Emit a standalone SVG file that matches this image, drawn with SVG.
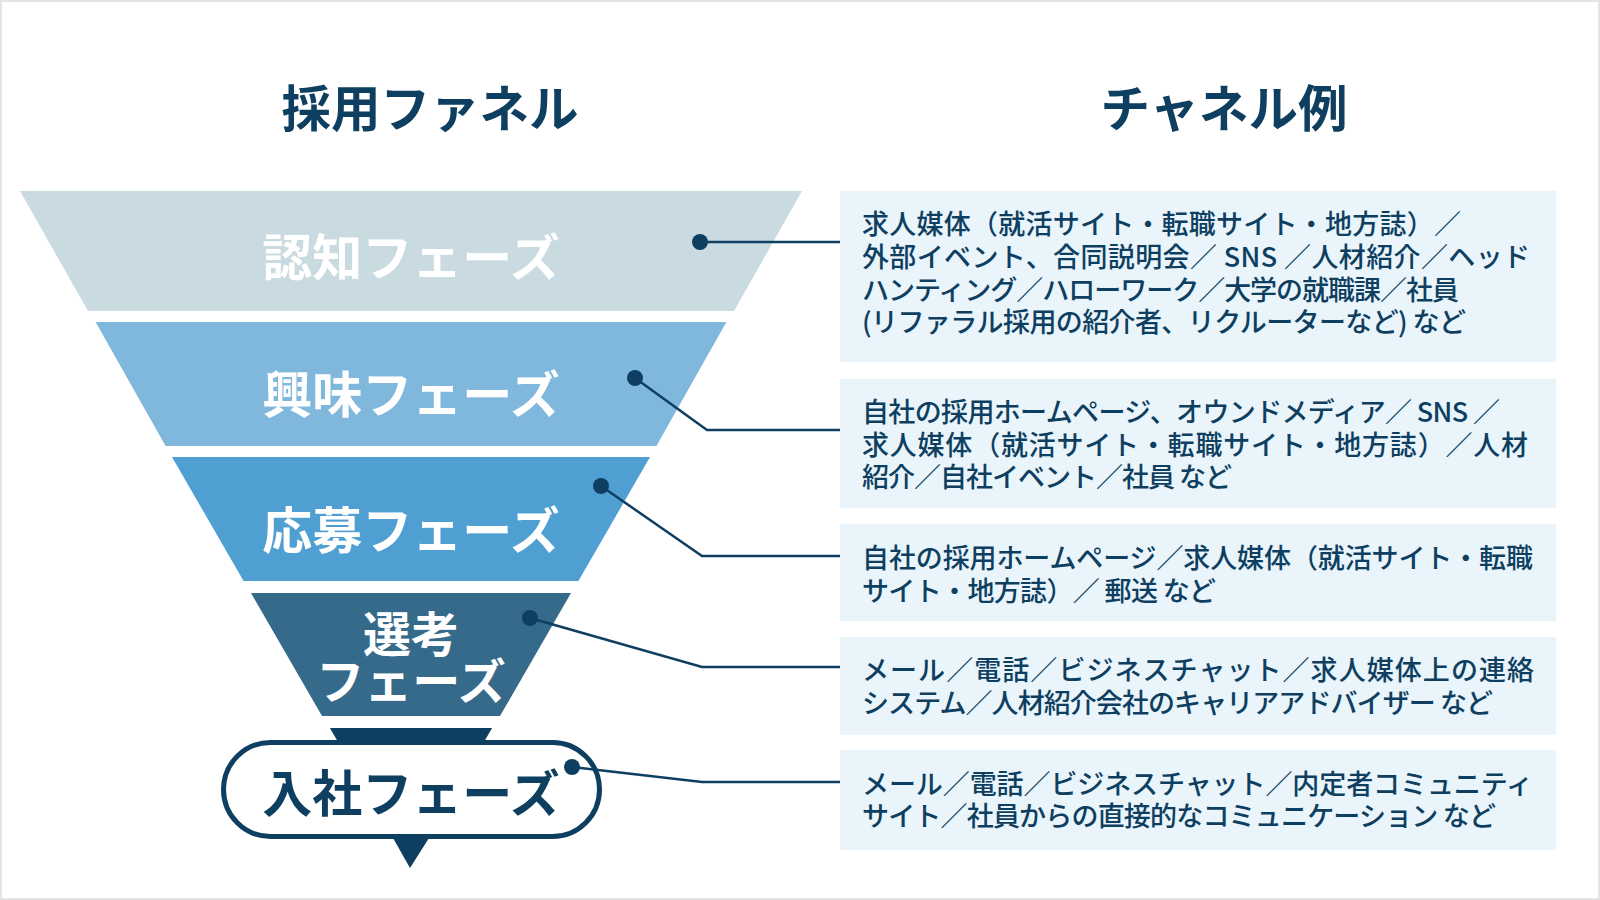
<svg xmlns="http://www.w3.org/2000/svg" width="1600" height="900" viewBox="0 0 1600 900">
  <style>
    .title { font-family: "Noto Sans CJK JP", "Noto Sans", sans-serif; font-weight: 700; font-size: 49.5px; fill: #0e3f60; text-anchor: middle; }
    .band { font-family: "Noto Sans CJK JP", "Noto Sans", sans-serif; font-weight: 700; font-size: 50px; fill: #ffffff; text-anchor: middle; }
    .bandDark { font-family: "Noto Sans CJK JP", "Noto Sans", sans-serif; font-weight: 700; font-size: 50px; fill: #0e3f60; text-anchor: middle; }
    .box { fill: #e9f4fb; }
    .txt { font-family: "Noto Sans CJK JP", "Noto Sans", sans-serif; font-weight: 500; font-size: 27px; fill: #0e3f60; }
    .conn { fill: none; stroke: #0e3f60; stroke-width: 2.5; }
    .dot { fill: #0e3f60; }
  </style>
  <rect x="0" y="0" width="1600" height="900" fill="#ffffff"/>
  <rect x="1" y="1" width="1598" height="898" fill="none" stroke="#e4e4e4" stroke-width="2"/>

  <g id="titles">
    <text class="title" x="430" y="127">採用ファネル</text>
    <text class="title" x="1224" y="127">チャネル例</text>
  </g>

  <g id="stage-awareness">
    <polygon points="20,191 802,191 734,311 88,311" fill="#c9dbe1"/>
    <text class="band" x="411" y="276">認知フェーズ</text>
  </g>
  <g id="stage-interest">
    <polygon points="95.6,322 726.4,322 656.4,446 165.6,446" fill="#80b8dd"/>
    <text class="band" x="411" y="413">興味フェーズ</text>
  </g>
  <g id="stage-apply">
    <polygon points="172,457 650,457 578.4,581 243.6,581" fill="#4f9fd3"/>
    <text class="band" x="411" y="549">応募フェーズ</text>
  </g>
  <g id="stage-selection">
    <polygon points="251,593 571,593 500,716 322,716" fill="#366a8a"/>
    <text class="band" x="411" y="652" style="font-size:48px">選考</text>
    <text class="band" x="411" y="699" style="font-size:48px">フェーズ</text>
  </g>
  <g id="stage-join">
    <polygon points="329.9,728 492.1,728 470,766 352,766" fill="#0e3f60"/>
    <rect x="223.5" y="742.5" width="376" height="94" rx="47" ry="47" fill="#ffffff" stroke="#0e3f60" stroke-width="5"/>
    <polygon points="393,838 429,838 410,868" fill="#0e3f60"/>
    <text class="bandDark" x="411" y="812">入社フェーズ</text>
  </g>

  <g id="connectors">
    <polyline class="conn" points="700,242 840,242"/>
    <polyline class="conn" points="635,378 707,430 840,430"/>
    <polyline class="conn" points="601,486 702,556 840,556"/>
    <polyline class="conn" points="530,618 702,667 840,667"/>
    <polyline class="conn" points="572,767 702,782 840,782"/>
    <circle class="dot" cx="700" cy="242" r="8"/>
    <circle class="dot" cx="635" cy="378" r="8"/>
    <circle class="dot" cx="601" cy="486" r="8"/>
    <circle class="dot" cx="530" cy="618" r="8"/>
    <circle class="dot" cx="572" cy="767" r="8"/>
  </g>

  <g id="channel-awareness">
    <rect class="box" x="840" y="191" width="716" height="171"/>
    <text class="txt" x="862" y="234" textLength="599" lengthAdjust="spacing">求人媒体（就活サイト・転職サイト・地方誌）／</text>
    <text class="txt" x="862" y="267" textLength="668" lengthAdjust="spacing">外部イベント、合同説明会／ SNS ／人材紹介／ヘッド</text>
    <text class="txt" x="862" y="300" textLength="597" lengthAdjust="spacing">ハンティング／ハローワーク／大学の就職課／社員</text>
    <text class="txt" x="862" y="332" textLength="604" lengthAdjust="spacing">(リファラル採用の紹介者、リクルーターなど) など</text>
  </g>
  <g id="channel-interest">
    <rect class="box" x="840" y="379" width="716" height="129"/>
    <text class="txt" x="862" y="422" textLength="638" lengthAdjust="spacing">自社の採用ホームページ、オウンドメディア／ SNS ／</text>
    <text class="txt" x="862" y="455" textLength="666" lengthAdjust="spacing">求人媒体（就活サイト・転職サイト・地方誌）／人材</text>
    <text class="txt" x="862" y="487" textLength="370" lengthAdjust="spacing">紹介／自社イベント／社員 など</text>
  </g>
  <g id="channel-apply">
    <rect class="box" x="840" y="524" width="716" height="97"/>
    <text class="txt" x="862" y="568" textLength="671" lengthAdjust="spacing">自社の採用ホームページ／求人媒体（就活サイト・転職</text>
    <text class="txt" x="862" y="601" textLength="354" lengthAdjust="spacing">サイト・地方誌）／ 郵送 など</text>
  </g>
  <g id="channel-selection">
    <rect class="box" x="840" y="637" width="716" height="98"/>
    <text class="txt" x="862" y="680" textLength="672" lengthAdjust="spacing">メール／電話／ビジネスチャット／求人媒体上の連絡</text>
    <text class="txt" x="862" y="713" textLength="631" lengthAdjust="spacing">システム／人材紹介会社のキャリアアドバイザー など</text>
  </g>
  <g id="channel-join">
    <rect class="box" x="840" y="750" width="716" height="100"/>
    <text class="txt" x="862" y="794" textLength="671" lengthAdjust="spacing">メール／電話／ビジネスチャット／内定者コミュニティ</text>
    <text class="txt" x="862" y="826" textLength="634" lengthAdjust="spacing">サイト／社員からの直接的なコミュニケーション など</text>
  </g>
</svg>
